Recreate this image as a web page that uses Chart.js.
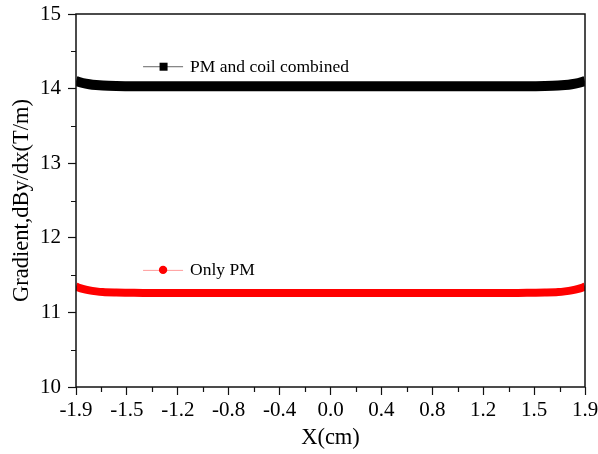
<!DOCTYPE html>
<html>
<head>
<meta charset="utf-8">
<script src="https://cdn.jsdelivr.net/npm/chart.js@4.4.1/dist/chart.umd.min.js"></script>
<style>
  html, body { margin: 0; padding: 0; background: #fff; }
  #wrap { width: 598px; height: 454px; }
</style>
</head>
<body>
<div id="wrap"><canvas id="chartCanvas" width="598" height="454"></canvas></div>
<script>
// position along the magnet (cm)
const xPos = [-1.9, -1.85, -1.8, -1.75, -1.7, -1.6, -1.5, -1.4, -1.3, -1.2, -1.1, -1.0, -0.9, -0.8, -0.7, -0.6,
  -0.5, -0.4, -0.3, -0.2, -0.1, 0, 0.1, 0.2, 0.3, 0.4, 0.5, 0.6, 0.7, 0.8, 0.9, 1.0, 1.1, 1.2, 1.3, 1.4,
  1.5, 1.6, 1.7, 1.75, 1.8, 1.85, 1.9];

// gradient dBy/dx (T/m)
const combined = [14.100, 14.075, 14.058, 14.047, 14.040, 14.034, 14.032, 14.030, 14.030, 14.030, 14.030,
  14.030, 14.030, 14.030, 14.030, 14.030, 14.030, 14.030, 14.030, 14.030, 14.030, 14.030, 14.030, 14.030,
  14.030, 14.030, 14.030, 14.030, 14.030, 14.030, 14.030, 14.030, 14.030, 14.030, 14.030, 14.030,
  14.032, 14.034, 14.040, 14.047, 14.058, 14.075, 14.100];
const onlyPM = [11.345, 11.315, 11.295, 11.282, 11.273, 11.266, 11.263, 11.260, 11.260, 11.260, 11.260,
  11.260, 11.260, 11.260, 11.260, 11.260, 11.260, 11.260, 11.260, 11.260, 11.260, 11.260, 11.260, 11.260,
  11.260, 11.260, 11.260, 11.260, 11.260, 11.260, 11.260, 11.260, 11.260, 11.260, 11.260, 11.260,
  11.263, 11.266, 11.273, 11.282, 11.295, 11.315, 11.345];

const xTickLabels = ["-1.9", "-1.5", "-1.2", "-0.8", "-0.4", "0.0", "0.4", "0.8", "1.2", "1.5", "1.9"];
const xMin = -1.9, xMax = 1.9;

const FONT = "'Liberation Serif', 'Times New Roman', serif";

function toPoints(ys) {
  return xPos.map((x, i) => ({ x: x, y: ys[i] }));
}

// box around the plot area plus the small in-between ticks
const framePlugin = {
  id: "frame",
  afterDraw(chart) {
    const { ctx, chartArea: a, scales } = chart;
    ctx.save();
    ctx.strokeStyle = "#111";
    ctx.lineWidth = 1.5;
    ctx.strokeRect(a.left, a.top, a.right - a.left, a.bottom - a.top);

    ctx.lineWidth = 1.2;
    ctx.beginPath();
    const xt = scales.x.ticks;
    for (let i = 0; i < xt.length - 1; i++) {
      const px = Math.round(scales.x.getPixelForValue((xt[i].value + xt[i + 1].value) / 2)) + 0.5;
      ctx.moveTo(px, a.bottom);
      ctx.lineTo(px, a.bottom + 5);
    }
    for (let v = 10.5; v < 15; v += 1) {
      const py = Math.round(scales.y.getPixelForValue(v)) + 0.5;
      ctx.moveTo(a.left, py);
      ctx.lineTo(a.left - 5, py);
    }
    ctx.stroke();
    ctx.restore();
  }
};

// one legend entry placed next to each curve
const curveLegendPlugin = {
  id: "curveLegend",
  afterDatasetsDraw(chart, args, opts) {
    const { ctx, scales } = chart;
    ctx.save();
    opts.items.forEach(item => {
      const cx = scales.x.getPixelForValue(item.x);
      const cy = scales.y.getPixelForValue(item.y);
      ctx.strokeStyle = item.lineColor;
      ctx.lineWidth = 1;
      ctx.beginPath();
      ctx.moveTo(cx - 20, cy + 0.5);
      ctx.lineTo(cx + 20, cy + 0.5);
      ctx.stroke();
      ctx.fillStyle = item.color;
      if (item.marker === "rect") {
        ctx.fillRect(cx - 3.5, cy - 3.5, 8, 8);
      } else {
        ctx.beginPath();
        ctx.arc(cx, cy, 4.2, 0, Math.PI * 2);
        ctx.fill();
      }
      ctx.fillStyle = "#000";
      ctx.font = "17.5px " + FONT;
      ctx.textBaseline = "middle";
      ctx.fillText(item.text, cx + 27, cy + 1);
    });
    ctx.restore();
  }
};

const ctx = document.getElementById("chartCanvas").getContext("2d");

new Chart(ctx, {
  type: "scatter",
  data: {
    datasets: [{
      label: "PM and coil combined",
      data: toPoints(combined),
      showLine: true,
      borderColor: "#000",
      borderWidth: 10,
      backgroundColor: "#000",
      pointStyle: "rect",
      pointRadius: 0,
      cubicInterpolationMode: "monotone"
    }, {
      label: "Only PM",
      data: toPoints(onlyPM),
      showLine: true,
      borderColor: "#ff0000",
      borderWidth: 8,
      backgroundColor: "#ff0000",
      pointRadius: 0,
      cubicInterpolationMode: "monotone"
    }]
  },
  options: {
    responsive: false,
    animation: false,
    layout: { padding: { top: 14, right: 13, left: 0, bottom: 0 } },
    plugins: {
      legend: { display: false },
      tooltip: { enabled: false },
      curveLegend: {
        items: [
          { x: -1.25, y: 14.30, text: "PM and coil combined", color: "#000", lineColor: "#666", marker: "rect" },
          { x: -1.25, y: 11.57, text: "Only PM", color: "#ff0000", lineColor: "#ff9a9a", marker: "circle" }
        ]
      }
    },
    scales: {
      x: {
        type: "linear",
        min: xMin,
        max: xMax,
        afterBuildTicks(scale) {
          const step = (xMax - xMin) / (xTickLabels.length - 1);
          scale.ticks = xTickLabels.map((l, i) => ({ value: xMin + i * step }));
        },
        afterFit(scale) {
          scale.height = 67;
          scale.paddingLeft = 0;
          scale.paddingRight = 0;
        },
        ticks: {
          autoSkip: false,
          maxRotation: 0,
          color: "#000",
          padding: 3,
          font: { family: FONT, size: 21 },
          callback: (v, i) => xTickLabels[i]
        },
        grid: { drawOnChartArea: false, tickLength: 8, tickColor: "#111", tickWidth: 1.2 },
        border: { display: false },
        title: {
          display: true,
          text: "X(cm)",
          color: "#000",
          padding: { top: 0, bottom: 2 },
          font: { family: FONT, size: 22.5 }
        }
      },
      y: {
        min: 10,
        max: 15,
        afterFit(scale) {
          scale.width = 76;
          scale.paddingTop = 0;
          scale.paddingBottom = 0;
        },
        ticks: {
          stepSize: 1,
          color: "#000",
          padding: 7,
          font: { family: FONT, size: 21 }
        },
        grid: { drawOnChartArea: false, tickLength: 8, tickColor: "#111", tickWidth: 1.2 },
        border: { display: false },
        title: {
          display: true,
          text: "Gradient,dBy/dx(T/m)",
          color: "#000",
          padding: { top: 9, bottom: 0 },
          font: { family: FONT, size: 22.5 }
        }
      }
    }
  },
  plugins: [framePlugin, curveLegendPlugin]
});
</script>
</body>
</html>
